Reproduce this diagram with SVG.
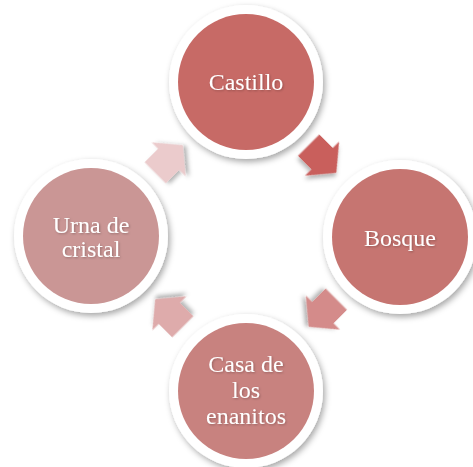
<svg xmlns="http://www.w3.org/2000/svg" width="473" height="467" viewBox="0 0 473 467">
<style>
.ring{fill:#ffffff;filter:url(#sh);}
.lbl{font-family:"Liberation Serif","Times New Roman",serif;font-size:24px;fill:#ffffff;text-anchor:middle;filter:url(#tsh);}
.arr{filter:url(#ash);}
</style>
<defs>
<filter id="sh" x="-20%" y="-20%" width="140%" height="140%">
<feDropShadow dx="2" dy="3" stdDeviation="3" flood-color="#000" flood-opacity="0.35"/>
</filter>
<filter id="ash" x="-30%" y="-30%" width="160%" height="160%">
<feDropShadow dx="2" dy="3" stdDeviation="2" flood-color="#000" flood-opacity="0.3"/>
</filter>
<filter id="tsh" x="-10%" y="-20%" width="120%" height="140%">
<feDropShadow dx="1" dy="1" stdDeviation="1" flood-color="#000" flood-opacity="0.25"/>
</filter>
<path id="arrow" d="M-19.5,-15 L-0.5,-15 L-0.5,-24 L19.5,0 L-0.5,24 L-0.5,15 L-19.5,15 Z"/>
</defs>
<g id="connectors">
<use href="#arrow" class="arr" fill="#C95F5C" transform="translate(322.5,159) rotate(45)"/>
<use href="#arrow" class="arr" fill="#D48B8A" transform="translate(322.5,313) rotate(135)"/>
<use href="#arrow" class="arr" fill="#DEABAB" transform="translate(169,313) rotate(225)"/>
<use href="#arrow" class="arr" fill="#EBCBCC" transform="translate(169,159) rotate(-45)"/>
</g>
<g id="castillo">
<circle class="ring" cx="246" cy="82" r="77"/>
<circle cx="246" cy="82" r="68" fill="#C76A66"/>
<text class="lbl" x="246" y="90">Castillo</text>
</g>
<g id="bosque">
<circle class="ring" cx="400" cy="237" r="77"/>
<circle cx="400" cy="237" r="68" fill="#C67571"/>
<text class="lbl" x="400" y="246">Bosque</text>
</g>
<g id="casa">
<circle class="ring" cx="246" cy="391" r="77"/>
<circle cx="246" cy="391" r="68" fill="#C8827F"/>
<text class="lbl" x="246" y="372">Casa de</text>
<text class="lbl" x="246" y="398">los</text>
<text class="lbl" x="246" y="424">enanitos</text>
</g>
<g id="urna">
<circle class="ring" cx="91" cy="236" r="77"/>
<circle cx="91" cy="236" r="68" fill="#CA9695"/>
<text class="lbl" x="91" y="233">Urna de</text>
<text class="lbl" x="91" y="257">cristal</text>
</g>
</svg>
